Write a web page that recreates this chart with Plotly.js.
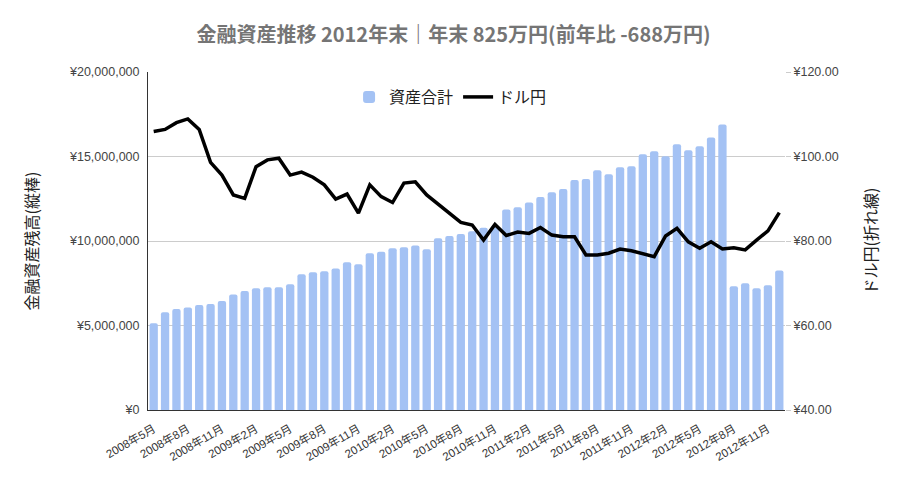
<!DOCTYPE html>
<html>
<head>
<meta charset="utf-8">
<script src="https://cdn.plot.ly/plotly-3.0.1.min.js"></script>
<style>
  html, body { margin: 0; padding: 0; background: #fff; }
  #graph { width: 907px; height: 480px; }
</style>
</head>
<body>
<div id="graph"></div>
<script>
// 月ラベル 2008年5月〜2012年12月
var months = []
for (var y = 2008; y <= 2012; y++) {
    for (var m = (y == 2008 ? 5 : 1); m <= 12; m++) {
        months.push(y + "年" + m + "月")
    }
}

// 資産合計 (円)
var assets = [
    5130000, 5780000, 5970000, 6070000, 6210000, 6270000, 6450000, 6840000,
    7040000, 7200000, 7260000, 7260000, 7440000, 8030000, 8150000, 8210000,
    8380000, 8740000, 8620000, 9270000, 9370000, 9570000, 9630000, 9740000,
    9510000, 10160000, 10300000, 10410000, 10580000, 10780000, 10900000, 11860000,
    12000000, 12280000, 12600000, 12880000, 13080000, 13610000, 13670000, 14180000,
    13950000, 14360000, 14420000, 15130000, 15310000, 15010000, 15720000, 15370000,
    15600000, 16130000, 16900000, 7320000, 7500000, 7200000, 7380000, 8250000
]

// ドル円
var usdjpy = [
    105.9, 106.4, 108.0, 108.9, 106.4, 98.6, 95.6, 90.9,
    90.1, 97.6, 99.2, 99.6, 95.6, 96.3, 95.1, 93.3,
    89.9, 91.1, 86.6, 93.3, 90.5, 89.1, 93.7, 94.0,
    90.9, 88.8, 86.6, 84.4, 83.8, 80.2, 83.9, 81.3,
    82.1, 81.8, 83.2, 81.4, 81.0, 81.0, 76.7, 76.7,
    77.1, 78.1, 77.7, 77.1, 76.3, 81.2, 83.0, 79.8,
    78.3, 79.8, 78.1, 78.4, 77.9, 80.2, 82.4, 86.7
]

var tickMonths = months.filter(function(d, i) { return i % 3 == 0 })

var trace1 = {
    x: months,
    y: assets,
    type: 'bar',
    name: '資産合計',
    marker: { color: '#a4c2f4', cornerradius: 2 }
}

var trace2 = {
    x: months,
    y: usdjpy,
    type: 'scatter',
    mode: 'lines',
    name: 'ドル円',
    yaxis: 'y2',
    line: { color: '#000000', width: 3.5 }
}

var font = "Liberation Sans, Arial, 'Noto Sans CJK JP', sans-serif"
var cjk = "'Noto Sans CJK JP', sans-serif"

var layout = {
    width: 907,
    height: 480,
    margin: { l: 148, r: 122, t: 72, b: 70 },
    paper_bgcolor: '#ffffff',
    plot_bgcolor: '#ffffff',
    font: { family: font, size: 12, color: '#444444' },
    title: {
        text: '<b>金融資産推移 2012年末｜年末 825万円(前年比 -688万円)</b>',
        x: 0.5,
        xanchor: 'center',
        y: 0.928,
        yanchor: 'middle',
        font: { family: cjk, size: 20, color: '#757575' }
    },
    bargap: 0.27,
    showlegend: true,
    legend: {
        orientation: 'h',
        x: 0.475,
        xanchor: 'center',
        y: 0.926,
        yanchor: 'middle',
        font: { family: cjk, size: 16, color: '#222222' },
        bgcolor: 'rgba(0,0,0,0)'
    },
    xaxis: {
        type: 'category',
        range: [-0.5, 55.5],
        tickmode: 'array',
        tickvals: tickMonths,
        ticktext: tickMonths,
        tickangle: -30,
        tickfont: { size: 11.5, color: '#333333' },
        showgrid: false,
        showline: true,
        linecolor: '#333333',
        linewidth: 1,
        ticks: 'outside',
        ticklen: 7,
        tickcolor: 'rgba(0,0,0,0)',
        fixedrange: true
    },
    yaxis: {
        range: [0, 20000000],
        dtick: 5000000,
        tickprefix: '¥',
        tickformat: ',d',
        tickfont: { size: 12.5, color: '#444444' },
        showgrid: true,
        gridcolor: '#cccccc',
        showline: true,
        linecolor: '#333333',
        zeroline: false,
        ticks: 'outside',
        ticklen: 5,
        tickcolor: 'rgba(0,0,0,0)',
        title: { text: '金融資産残高(縦棒)', font: { family: cjk, size: 16, color: '#222222' }, standoff: 26 }
    },
    yaxis2: {
        overlaying: 'y',
        side: 'right',
        range: [40, 120],
        dtick: 20,
        tickprefix: '¥',
        tickformat: '.2f',
        tickfont: { size: 12.5, color: '#444444' },
        showgrid: false,
        zeroline: false,
        ticks: 'outside',
        ticklen: 5,
        tickcolor: '#cccccc',
        title: { text: 'ドル円(折れ線)', font: { family: cjk, size: 16, color: '#222222' }, standoff: 28 }
    }
}

Plotly.newPlot('graph', [trace1, trace2], layout, { displayModeBar: false, staticPlot: true })
</script>
</body>
</html>
